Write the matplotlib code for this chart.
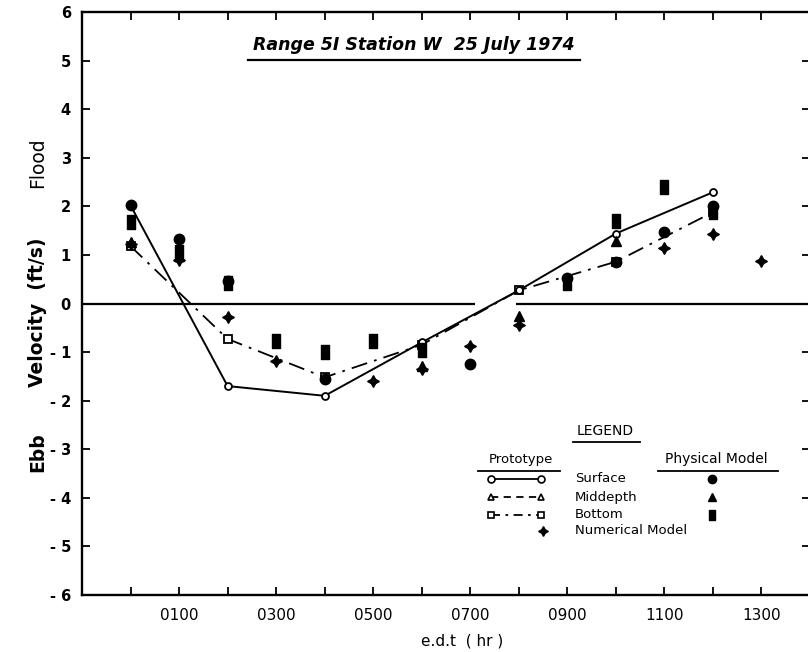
import numpy as np
import matplotlib.pyplot as plt
from matplotlib.lines import Line2D
from matplotlib.path import Path

nan = np.nan

# hours after 0000 e.d.t.
horas = np.arange(0, 14)
horas_proto = [0, 2, 4, 6, 8, 10, 12]

# prototype (lines)
proto_surface = [2.02, -1.70, -1.90, -0.80, 0.27, 1.44, 2.29]
proto_bottom = [1.18, -0.73, -1.52, -0.85, 0.27, 0.86, 1.88]

# physical model (filled markers), hourly
phys_surface = [2.02, 1.32, 0.47, nan, -1.55, nan, nan, -1.25, nan, 0.52, 0.86, 1.48, 2.01, nan]
phys_middepth = [1.27, 0.97, nan, nan, nan, nan, -1.28, nan, -0.26, nan, 1.29, nan, nan, nan]
phys_bottom = [1.67, 1.07, 0.42, -0.78, -0.99, -0.78, -0.95, nan, nan, 0.43, 1.70, 2.40, 1.88, nan]

# numerical model
numerical = [1.22, 0.90, -0.28, -1.18, nan, -1.60, -1.35, -0.87, -0.45, nan, nan, 1.14, 1.43, 0.88]

xtick_labels = ['0100', '0300', '0500', '0700', '0900', '1100', '1300']
ytick_labels = ['- 6', '- 5', '- 4', '- 3', '- 2', '- 1', '0', '1', '2', '3', '4', '5', '6']

W, H = 808, 652
fig = plt.figure(figsize=(W / 100, H / 100), dpi=100)
ax = fig.add_axes([82 / W, 57 / H, 728 / W, 583 / H])


def fx(x):
    return x / W


def fy(y):
    return 1 - y / H


# a tall box for the physical model "square"
box = Path([(-0.62, -1), (0.62, -1), (0.62, 1), (-0.62, 1), (-0.62, -1)],
           [Path.MOVETO, Path.LINETO, Path.LINETO, Path.LINETO, Path.CLOSEPOLY])
plus4 = (4, 1, 0)

# zero line (with the small gap of the original)
ax.hlines(0, -1, 7.1, color='black', lw=1.6, zorder=1)
ax.hlines(0, 7.95, 14, color='black', lw=1.6, zorder=1)

ax.plot(horas_proto, proto_surface, color='black', lw=1.4, marker='o', ms=5,
        mfc='white', mec='black', mew=1.3, zorder=3)
ax.plot(horas_proto, proto_bottom, color='black', lw=1.3, dashes=(9, 4, 1.5, 4),
        marker='s', ms=5.5, mfc='white', mec='black', mew=1.3, zorder=2)

ax.plot(horas, phys_bottom, ls='none', marker=box, ms=10, color='black', zorder=4)
ax.plot(horas, phys_surface, ls='none', marker='o', ms=7.5, color='black', zorder=4)
ax.plot(horas, phys_middepth, ls='none', marker='^', ms=6.5, color='black', zorder=4)
ax.plot(horas, numerical, ls='none', marker=plus4, ms=8.5, color='black', zorder=4)

ax.set_xlim(-1, 14)
ax.set_ylim(-6, 6)

ax.set_xticks(range(1, 14, 2))
ax.set_xticklabels(xtick_labels, fontsize=11)
ax.set_xticks(range(0, 14, 2), minor=True)
ax.set_yticks(range(-6, 7))
ax.set_yticklabels(ytick_labels, fontsize=10.5, fontweight='bold')
ax.tick_params(axis='both', which='both', direction='in', length=6, width=1.3,
               top=True, right=True)
ax.tick_params(axis='x', which='major', pad=9)
ax.tick_params(axis='y', pad=8)
for s in ax.spines.values():
    s.set_linewidth(1.7)

# axis titles
fig.text(fx(462), fy(641), 'e.d.t  ( hr )', ha='center', va='center', fontsize=11)
fig.text(fx(38), fy(312), 'Velocity  (ft/s)', ha='center', va='center',
         rotation=90, fontsize=13.5, fontweight='bold')
fig.text(fx(38), fy(163), 'Flood', ha='center', va='center', rotation=90, fontsize=13.5)
fig.text(fx(38), fy(452), 'Ebb', ha='center', va='center', rotation=90, fontsize=13.5,
         fontweight='bold')

# title, underlined
fig.text(fx(414), fy(45), 'Range 5I Station W  25 July 1974', ha='center', va='center',
         fontsize=12.5, fontweight='bold', fontstyle='italic')
fig.add_artist(Line2D([fx(248), fx(580)], [fy(60), fy(60)], color='black', lw=1.6))

# legend drawn by hand
fig.text(fx(605), fy(431), 'LEGEND', ha='center', va='center', fontsize=10)
fig.add_artist(Line2D([fx(573), fx(640)], [fy(442), fy(442)], color='black', lw=1.3))
fig.text(fx(521), fy(459), 'Prototype', ha='center', va='center', fontsize=9.5)
fig.add_artist(Line2D([fx(478), fx(560)], [fy(471), fy(471)], color='black', lw=1.3))
fig.text(fx(716), fy(459), 'Physical Model', ha='center', va='center', fontsize=10)
fig.add_artist(Line2D([fx(658), fx(778)], [fy(471), fy(471)], color='black', lw=1.3))

filas = [('Surface', 479, 'o', '-', None, 'o'),
         ('Middepth', 497, '^', '--', None, '^'),
         ('Bottom', 515, 's', '-', (9, 4, 1.5, 4), box)]
for nombre, y, m_proto, ls, dash, m_fis in filas:
    kw = dict(color='black', lw=1.3, marker=m_proto, ms=5, mfc='white', mec='black',
              mew=1.2, ls=ls)
    if dash is not None:
        kw['dashes'] = (5, 3, 1.5, 3)
    if ls == '--':
        kw['dashes'] = (4, 3)
    fig.add_artist(Line2D([fx(491), fx(541)], [fy(y), fy(y)], **kw))
    fig.text(fx(575), fy(y), nombre, ha='left', va='center', fontsize=9.5)
    fig.add_artist(Line2D([fx(712)], [fy(y)], ls='none', marker=m_fis,
                          ms=6 if m_fis != box else 7, color='black'))
fig.add_artist(Line2D([fx(543)], [fy(531)], ls='none', marker=plus4, ms=7, color='black'))
fig.text(fx(575), fy(531), 'Numerical Model', ha='left', va='center', fontsize=9.5)

fig.savefig('out.png', dpi=100)
